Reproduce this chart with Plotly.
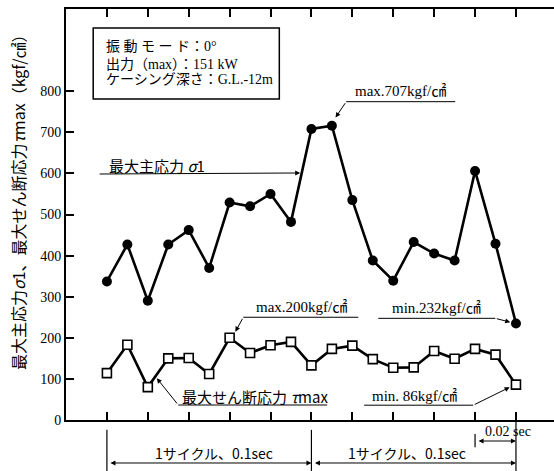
import plotly.graph_objects as go

# time (sec), one point every 0.01 s
t = [round(0.01 * i, 2) for i in range(21)]
sigma1 = [337, 427, 290, 427, 462, 370, 529, 520, 550, 482, 708,
          716, 535, 388, 339, 433, 405, 388, 606, 429, 235]
tau_max = [114, 183, 80, 150, 151, 112, 200, 163, 182, 190, 133,
           173, 181, 148, 127, 128, 168, 149, 173, 159, 86]
x_ticks = [0, 0.02, 0.04, 0.06, 0.08, 0.1, 0.12, 0.14, 0.16, 0.18, 0.2]
y_ticks = [0, 100, 200, 300, 400, 500, 600, 700, 800]

SERIF = "Liberation Serif, Noto Sans CJK JP"
CJK = "Noto Sans CJK JP, Liberation Serif"

fig = go.Figure()
fig.add_trace(go.Scatter(
    x=t, y=sigma1, mode="lines+markers",
    line=dict(color="black", width=2.6),
    marker=dict(symbol="circle", size=10, color="black"),
    showlegend=False, hoverinfo="skip"))
fig.add_trace(go.Scatter(
    x=t, y=tau_max, mode="lines+markers",
    line=dict(color="black", width=2.6),
    marker=dict(symbol="square", size=9, color="white",
                line=dict(color="black", width=1.6)),
    showlegend=False, hoverinfo="skip"))

shapes = []
annotations = []


def line(x0, y0, x1, y1, xref="x", yref="y", w=1):
    shapes.append(dict(type="line", x0=x0, y0=y0, x1=x1, y1=y1,
                       xref=xref, yref=yref,
                       line=dict(color="black", width=w)))


def arrow(xh, yh, xt, yt, w=1):
    annotations.append(dict(x=xh, y=yh, ax=xt, ay=yt, xref="x", yref="y",
                            axref="x", ayref="y", text="", showarrow=True,
                            arrowhead=2, arrowsize=1, arrowwidth=w,
                            arrowcolor="black"))


def text(s, x, y, xanchor="center", size=15, family=SERIF, xref="x",
         yref="y", align="left"):
    annotations.append(dict(text=s, x=x, y=y, xref=xref, yref=yref,
                            xanchor=xanchor, yanchor="middle",
                            showarrow=False, align=align,
                            font=dict(size=size, family=family,
                                      color="black")))


# info box
shapes.append(dict(type="rect", x0=-0.0067, x1=0.0843, y0=781, y1=954,
                   xref="x", yref="y", line=dict(color="black", width=1.5),
                   fillcolor="white"))
text("振 動 モ ー ド：0°", -0.0013, 908, "left", 14)
text("出力（max）：151 kW", -0.0013, 866, "left", 14)
text("ケーシング深さ：G.L.-12m", -0.0013, 829, "left", 14)

# max 707
text("max.707kgf/㎠", 0.1434, 800, size=15)
line(0.117, 774.5, 0.1703, 774.5)
arrow(0.1118, 736, 0.117, 774.5)

# sigma1 label
text("最大主応力 <i>σ</i>1", 0.0, 620, "left", 15, CJK)
arrow(0.0945, 601, -0.0043, 598.5)

# max 200
text("max.200kgf/㎠", 0.0953, 275.7, size=15)
line(0.0667, 250, 0.1229, 250)
arrow(0.0628, 215, 0.0667, 250)

# min 232
text("min.232kgf/㎠", 0.1613, 272.5, size=15)
line(0.1327, 247.4, 0.1899, 247.4)
arrow(0.1972, 238, 0.1899, 247.4)

# tau label
text("最大せん断応力 <i>τ</i>max", 0.0358, 56.7, "left", 15, CJK)
line(0.0349, 36.5, 0.1077, 36.5)
arrow(0.0244, 101.5, 0.0349, 36.5)

# min 86
text("min. 86kgf/㎠", 0.1287, 59, "left", 15)
line(0.1258, 36, 0.1791, 36)
arrow(0.1969, 79.6, 0.1791, 36)

# cycle brackets below the axis
for xv, y0 in [(0, -0.024), (0.1, -0.024), (0.2, 0.0)]:
    line(xv, y0, xv, -0.124, "x", "paper", 1.2)
line(0.18, -0.034, 0.18, -0.066, "x", "paper", 1.2)

for xs, xe, yp in [(0.0, 0.1, -0.1046), (0.1, 0.2, -0.1046),
                   (0.18, 0.2, -0.0511)]:
    annotations.append(dict(x=xe, y=yp, xref="x", yref="paper",
                            ax=-(xe - xs) * 2045 + 2, ay=0,
                            axref="pixel", ayref="pixel", text="",
                            showarrow=True, arrowhead=2, arrowsize=1,
                            arrowwidth=1, arrowside="end+start",
                            arrowcolor="black"))

text("1サイクル、0.1sec", 0.0526, -0.0803, size=14, family=CJK,
     yref="paper")
text("1サイクル、0.1sec", 0.1465, -0.0803, size=14, family=CJK,
     yref="paper")
text("0.02 sec", 0.1963, -0.0285, size=14, yref="paper")

# y-axis title
annotations.append(dict(
    text="最大主応力<i>σ</i>1、最大せん断応力<i>τ</i>max（kgf/㎠）",
    x=-0.0984, y=0.54, xref="paper", yref="paper", textangle=-90,
    showarrow=False, xanchor="center", yanchor="middle",
    font=dict(size=16, family=CJK, color="black")))

fig.update_layout(
    width=554, height=471,
    margin=dict(l=66, r=0, t=9, b=51),
    paper_bgcolor="white", plot_bgcolor="white",
    shapes=shapes, annotations=annotations,
    xaxis=dict(range=[-0.02, 0.2186], tickvals=x_ticks,
               showticklabels=False, ticks="inside", ticklen=8,
               tickwidth=1.5, tickcolor="black", showline=True,
               linecolor="black", linewidth=2, mirror="ticks",
               showgrid=False, zeroline=False),
    yaxis=dict(range=[0, 1000], tickvals=y_ticks,
               ticktext=[str(v) for v in y_ticks],
               ticks="inside", ticklen=8, tickwidth=1.5,
               tickcolor="black", showline=True, linecolor="black",
               linewidth=2, mirror=False, showgrid=False,
               zeroline=False,
               tickfont=dict(size=14, family=SERIF, color="black")),
    yaxis2=dict(range=[0, 1000], tickvals=y_ticks[1:], overlaying="y",
                side="right", anchor="x", showticklabels=False,
                ticks="inside", ticklen=8, tickwidth=1.5,
                tickcolor="black", showline=False, showgrid=False,
                zeroline=False),
)

fig.write_html("out.html")
